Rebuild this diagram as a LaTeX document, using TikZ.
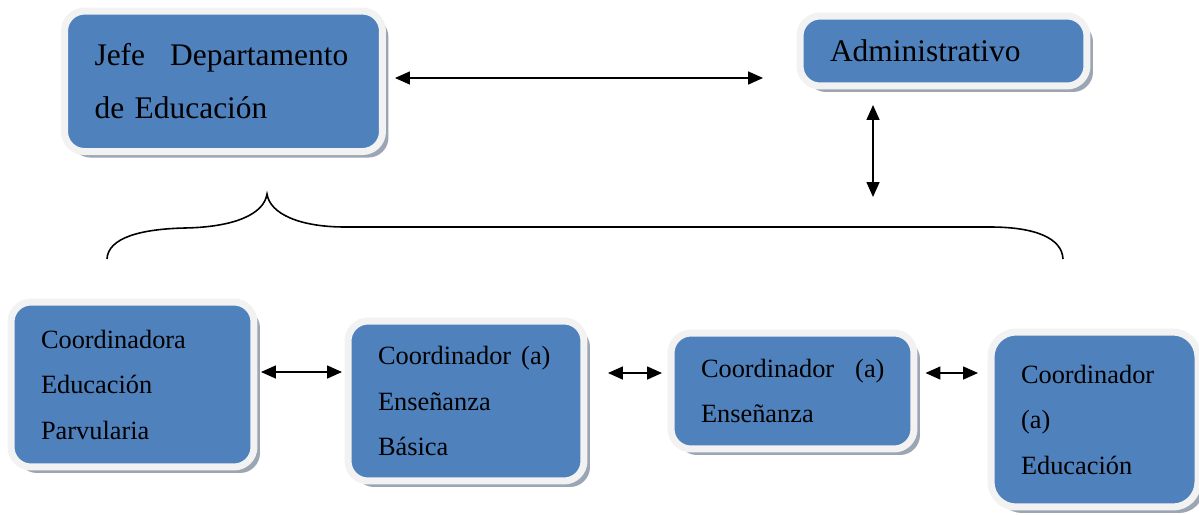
\documentclass[tikz,border=0pt]{standalone}
\usepackage{fontspec}
\setmainfont{Liberation Serif}
\usetikzlibrary{arrows.meta,shadows,calc}
\definecolor{boxblue}{HTML}{4F81BD}
\definecolor{framec}{HTML}{F2F2F2}
\definecolor{shadowc}{HTML}{9BA5B4}
\tikzset{
  orgbox/.style={rectangle, rounded corners=0.4cm, fill=boxblue, draw=framec,
    line width=0.14cm, inner xsep=0.6cm, inner ysep=0pt, align=left,
    drop shadow={shadow xshift=0.12cm, shadow yshift=-0.12cm, fill=shadowc, opacity=1}},
  bigtext/.style={font=\fontsize{17.9}{30.2}\selectfont},
  smalltext/.style={font=\fontsize{15}{25.9}\selectfont},
  link/.style={line width=0.9pt, {Triangle[length=0.3cm,width=0.26cm]}-{Triangle[length=0.3cm,width=0.26cm]}},
}
\begin{document}
\begin{tikzpicture}[x=0.02cm,y=-0.02cm]
\useasboundingbox (0,0) rectangle (1199,514);
\node[orgbox,bigtext,text width=5.16cm,minimum height=2.81cm] (j) at (223.5,81.3)
  {\mbox{Jefe\hspace{0.5cm}Departamento}\\de Educación};
\node[orgbox,bigtext,text width=4.54cm,minimum height=1.40cm] (a) at (943.5,51)
  {Administrativo};
\node[orgbox,smalltext,text width=3.66cm,minimum height=3.30cm] (c1) at (132.5,384.5)
  {Coordinadora\\Educación\\Parvularia};
\node[orgbox,smalltext,text width=3.52cm,minimum height=3.20cm] (c2) at (466,401)
  {\mbox{Coordinador\hspace{0.2cm}(a)}\\Enseñanza\\Básica};
\node[orgbox,smalltext,text width=3.66cm,minimum height=2.32cm] (c3) at (792.5,391)
  {\mbox{Coordinador\hspace{0.42cm}(a)}\\Enseñanza};
\node[orgbox,smalltext,rounded corners=0.5cm,text width=2.94cm,minimum height=3.50cm] (c4) at (1094.5,419.5)
  {Coordinador\\(a)\\Educación};
% connectors
\draw[link, shorten <=0.18cm, shorten >=0.67cm]
  ([yshift=0.066cm]j.east) -- ([yshift=0.066cm]j.east -| a.west);
\coordinate (vb) at (873,197);
\draw[link, shorten <=0.31cm] ([xshift=-1.41cm]a.south) -- (vb);
\draw[link, shorten <=0.07cm, shorten >=0.05cm]
  ([yshift=0.25cm]c1.east) -- ([yshift=0.25cm]c1.east -| c2.west);
\draw[link, shorten <=0.41cm, shorten >=0.11cm]
  ([yshift=0.56cm]c2.east) -- ([yshift=0.56cm]c2.east -| c3.west);
\draw[link, shorten <=0.16cm, shorten >=0.19cm]
  ([yshift=0.36cm]c3.east) -- ([yshift=0.36cm]c3.east -| c4.west);
% brace
\draw[line width=0.9pt]
  (107,259) .. controls (108,238) and (140,229) .. (185,228)
  .. controls (235,227) and (264,214) .. (267,194)
  .. controls (270,214) and (300,227) .. (345,227)
  -- (990,227)
  .. controls (1035,227) and (1062,238) .. (1063,259);
\end{tikzpicture}
\end{document}
